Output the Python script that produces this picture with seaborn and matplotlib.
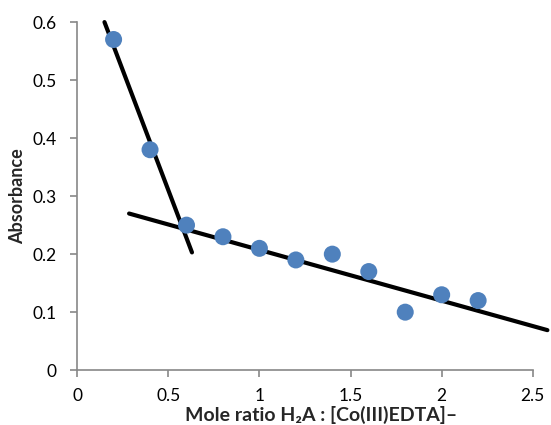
import matplotlib
matplotlib.use("Agg")
import matplotlib.pyplot as plt
import seaborn as sns
import pandas as pd

mole_ratio = [0.2, 0.4, 0.6, 0.8, 1.0, 1.2, 1.4, 1.6, 1.8, 2.0, 2.2]
absorbance = [0.57, 0.38, 0.25, 0.23, 0.21, 0.19, 0.20, 0.17, 0.10, 0.13, 0.12]
line1_x = [0.15, 0.63]
line1_y = [0.60, 0.203]
line2_x = [0.285, 2.58]
line2_y = [0.27, 0.069]
x_ticks = [0, 0.5, 1, 1.5, 2, 2.5]
y_ticks = [0, 0.1, 0.2, 0.3, 0.4, 0.5, 0.6]

sns.set_style("white")
plt.rcParams['font.family'] = ['Lato', 'DejaVu Sans']

df = pd.DataFrame({"x": mole_ratio, "y": absorbance})

fig = plt.figure(figsize=(5.51, 4.25), dpi=100)
ax = fig.add_axes([0.14, 0.129, 0.827, 0.819])

sns.lineplot(x=line1_x, y=line1_y, ax=ax, color="black", linewidth=3, clip_on=False)
sns.lineplot(x=line2_x, y=line2_y, ax=ax, color="black", linewidth=3, clip_on=False)
sns.scatterplot(data=df, x="x", y="y", ax=ax, color="#4F81BD", s=150,
                edgecolor="none", zorder=3, clip_on=False)

ax.set_xlim(0, 2.5)
ax.set_ylim(0, 0.6)
ax.set_xticks(x_ticks)
ax.set_xticklabels(["0", "0.5", "1", "1.5", "2", "2.5"])
ax.set_yticks(y_ticks)
ax.set_yticklabels(["0", "0.1", "0.2", "0.3", "0.4", "0.5", "0.6"])

for s in ["top", "right"]:
    ax.spines[s].set_visible(False)
for s in ["left", "bottom"]:
    ax.spines[s].set_color("#888888")
    ax.spines[s].set_linewidth(1.2)

ax.tick_params(axis="both", direction="out", length=5, width=1.2, color="#888888",
               labelsize=12.5, labelcolor="black")
ax.tick_params(axis="y", left=True, pad=10)
ax.tick_params(axis="x", bottom=True, pad=8)

ax.set_xlabel("Mole ratio H\u2082A : [Co(III)EDTA]\u2013", fontsize=14, fontweight="bold")
ax.xaxis.set_label_coords(0.535, -0.102)
ax.set_ylabel("Absorbance", fontsize=13, fontweight="bold")
ax.yaxis.set_label_coords(-0.112, 0.5)

fig.savefig("out.png", dpi=100)
